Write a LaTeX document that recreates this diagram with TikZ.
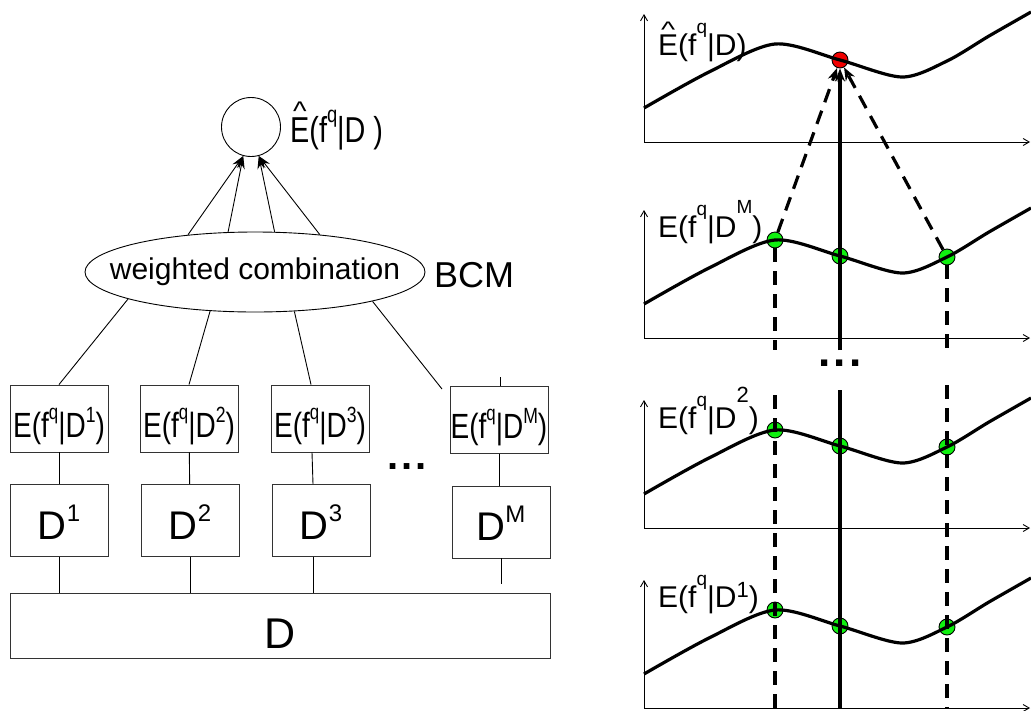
\documentclass[tikz,border=0pt]{standalone}
\usepackage{fontspec}
\setmainfont{Liberation Sans}
\newfontfamily\condsf[FakeStretch=0.8]{Liberation Sans}
\usepackage{graphicx}
\usetikzlibrary{positioning,shapes.geometric,arrows.meta}
\definecolor{dotgreen}{HTML}{10F010}
\definecolor{dotred}{HTML}{F00000}
\newcommand{\hatE}{\ooalign{E\cr\hidewidth\raisebox{0.6em}{\scalebox{1}[0.75]{\textasciicircum}}\hidewidth\cr}}
\newcommand{\ix}[3]{\raisebox{#1}{\fontsize{#2}{#2}\selectfont #3}}

\begin{document}
\begin{tikzpicture}[x=1pt,y=-1pt,
  fine/.style={line width=0.9pt},
  box/.style={draw=black!80,fine,minimum width=98pt,inner sep=0pt,text depth=0pt},
  ebox/.style={box,minimum height=67pt,text height=37pt,font=\condsf\fontsize{35}{40}\selectfont},
  dbox/.style={box,minimum height=72pt,text height=37pt,font=\fontsize{40}{44}\selectfont},
  arr/.style={fine,-{Stealth[length=13pt,width=8pt]}},
  axis/.style={fine,-{Straight Barb[length=6pt,width=7pt]}},
  heavy/.style={line width=3.2pt},
  dsh/.style={heavy,dash pattern=on 14pt off 9pt},
  headed/.style={-{Stealth[length=13pt,width=10pt]}},
  gdot/.style={circle,draw,fine,fill=dotgreen,minimum size=16pt,inner sep=0pt}]
  \useasboundingbox (0,0) rectangle (1031,710);

  % left: committee of estimators
  \node[draw,fine,circle,minimum size=59pt,inner sep=0pt] (est) at (251,127) {};
  \node[anchor=base west,inner sep=0pt,font=\condsf\fontsize{36}{40}\selectfont] (estlbl) at (290,142) {\hatE(f\ix{20pt}{23}{q}|D )};
  \node[draw,fine,ellipse,minimum width=340pt,minimum height=80pt,inner sep=0pt] (comb) at (255,272) {};
  \node[inner sep=0pt,font=\fontsize{30}{34}\selectfont] (combtxt) at (comb) {weighted combination};
  \node[anchor=base west,inner sep=0pt,font=\fontsize{36}{40}\selectfont] (bcm) at (434,287) {BCM};
  \foreach \a/\b in {151/-105,124/-105,64/-75,30/-75}
    \draw[arr] (comb.\a) -- (est.\b);

  \node[ebox] (e1) at (59,418.5) {E(f\ix{18pt}{21}{q}|D\ix{15pt}{22}{1})};
  \node[ebox] (e2) at (189,418.5) {E(f\ix{18pt}{21}{q}|D\ix{15pt}{22}{2})};
  \node[ebox] (e3) at (320,418.5) {E(f\ix{18pt}{21}{q}|D\ix{15pt}{22}{3})};
  \node[ebox] (eM) at (499,420) {E(f\ix{18pt}{21}{q}|D\ix{15pt}{22}{M})};
  \node[dbox] (d1) at (59,520.5) {D\ix{18pt}{24}{1}};
  \node[dbox] (d2) at (190,520.5) {D\ix{18pt}{24}{2}};
  \node[dbox] (d3) at (321,520.5) {D\ix{18pt}{24}{3}};
  \node[dbox] (dM) at (501,522) {D\ix{18pt}{24}{M}};
  \node[box,minimum width=540pt,minimum height=65pt,text height=46pt,font=\fontsize{43}{48}\selectfont] (dall) at (280,625.5) {D};
  \node[inner sep=0pt,font=\bfseries\fontsize{40}{40}\selectfont] (ldots) at (407,467) {.\kern3pt.\kern3pt.};

  \coordinate (mfree) at (442,389);
  \coordinate (mtick) at (500,377);
  \coordinate (mstub) at (501,584);
  \draw[fine] (comb.192) -- (e1.north);
  \draw[fine] (comb.221) -- (e2.north);
  \draw[fine] (comb.315) -- ([xshift=-9pt]e3.north);
  \draw[fine] (comb.346) -- (mfree);
  \draw[fine] (mtick) -- (mtick |- eM.north);
  \draw[fine] (e1) -- (d1);
  \draw[fine] (e2) -- (d2);
  \draw[fine] ([xshift=-8pt]e3.south) -- ([xshift=-8pt]d3.north);
  \draw[fine] (eM.south) -- (eM.south |- dM.north);
  \foreach \n in {d1,d2}
    \draw[fine] (\n.south) -- (\n.south |- dall.north);
  \draw[fine] ([xshift=-8pt]d3.south) -- ([xshift=-8pt]d3.south |- dall.north);
  \draw[fine] (dM.south) -- (mstub);

  % right: the M estimates evaluated at the query points
  \node[circle,draw,fine,fill=dotred,minimum size=16pt,inner sep=0pt] (red) at (840,60) {};
  \foreach \yo/\nm in {338/b,528/c,708/d}{
    \node[gdot] (\nm1) at (775,\yo-98) {};
    \node[gdot] (\nm2) at (840,\yo-82) {};
    \node[gdot] (\nm3) at (947,\yo-81) {};
  }
  \foreach \yo/\by/\nm/\lbl in {142/87/a/{\hatE(f\ix{22pt}{19}{q}|D)},
      338/101/b/{E(f\ix{22pt}{19}{q}|D\ix{24pt}{19}{M})},
      528/100/c/{E(f\ix{22pt}{19}{q}|D\ix{26pt}{22}{2})},
      708/101/d/{E(f\ix{22pt}{19}{q}|D\ix{10pt}{22}{1})}}{
    \begin{scope}[shift={(644,\yo)},yscale=-1]
      \draw[axis] (0,0) -- (0,128);
      \draw[axis] (0,0) -- (386,0);
      \draw[heavy] plot[smooth] coordinates {(0,34) (65,70) (131,98) (196,82) (258,65) (303,81) (345,106) (387,130)};
      \node[anchor=base west,inner sep=0pt,font=\fontsize{30}{34}\selectfont] (lbl\nm) at (14,\by) {\lbl};
    \end{scope}
  }

  \coordinate (sgap1) at (840,350);
  \coordinate (sgap2) at (840,390);
  \coordinate (sbot) at (840,708);
  \coordinate (lgap1) at (775,350);
  \coordinate (lgap2) at (775,395);
  \coordinate (lbot) at (775,708);
  \coordinate (rgap1) at (947,350);
  \coordinate (rgap2) at (947,385);
  \coordinate (rbot) at (947,708);
  \draw[heavy,headed] (sgap1) -- (red);
  \draw[heavy] (sgap2) -- (sbot);
  \draw[dsh] (b1) -- (lgap1);
  \draw[dsh] (lgap2) -- (lbot);
  \draw[dsh] (b3) -- (rgap1);
  \draw[dsh] (rgap2) -- (rbot);
  \draw[dsh,headed] (b1) -- (red);
  \draw[dsh,headed] (b3) -- (red);
  \node[inner sep=0pt,font=\bfseries\fontsize{44}{44}\selectfont] (rdots) at (840,363) {.\kern3pt.\kern3pt.};
\end{tikzpicture}
\end{document}
